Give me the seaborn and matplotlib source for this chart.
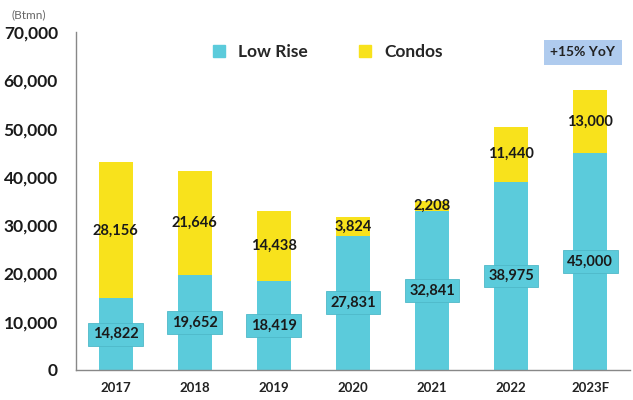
import pandas as pd
import matplotlib.pyplot as plt
import seaborn as sns

years = ["2017", "2018", "2019", "2020", "2021", "2022", "2023F"]
low_rise = [14822, 19652, 18419, 27831, 32841, 38975, 45000]
condos = [28156, 21646, 14438, 3824, 2208, 11440, 13000]

CYAN = "#5BCBDB"
YELLOW = "#F8E21C"

df = pd.DataFrame({"year": years, "low_rise": low_rise, "condos": condos})
df["total"] = df["low_rise"] + df["condos"]

sns.set_style("white")
plt.rcParams["font.family"] = ["Lato", "DejaVu Sans"]

fig = plt.figure(figsize=(6.33, 4.0), dpi=100)
ax = fig.add_axes([0.12, 0.075, 0.875, 0.845])

# stacked bars: total (condos on top) then low rise over it
sns.barplot(data=df, x="year", y="total", color=YELLOW, width=0.43,
            saturation=1, linewidth=0, ax=ax)
sns.barplot(data=df, x="year", y="low_rise", color=CYAN, width=0.43,
            saturation=1, linewidth=0, ax=ax)

for i, row in df.iterrows():
    ax.text(i, row["low_rise"] / 2, f"{row['low_rise']:,}", ha="center", va="center",
            fontsize=10.5, fontweight="bold", color="#1a1a1a",
            bbox=dict(boxstyle="square,pad=0.3", fc=CYAN, ec="#4fb8c8", lw=0.6))
    ax.text(i, row["low_rise"] + row["condos"] / 2, f"{row['condos']:,}", ha="center",
            va="center", fontsize=10.5, fontweight="bold", color="#1a1a1a")

ax.set_ylim(0, 70000)
ax.set_xlim(-0.5, 6.5)
ax.set_yticks(range(0, 70001, 10000))
ax.set_yticklabels([f"{v:,}" for v in range(0, 70001, 10000)], fontsize=12.5,
                   fontweight="bold", color="#1a1a1a")
ax.set_xticks(range(len(years)))
ax.set_xticklabels(years, fontsize=9.5, fontweight="bold", color="#222222")
ax.set_xticks([i + 0.5 for i in range(len(years) - 1)], minor=True)
ax.tick_params(axis="x", which="major", length=0, pad=9)
ax.tick_params(axis="x", which="minor", length=5, color="#888888", direction="out")
ax.tick_params(axis="y", length=5, color="#888888", direction="out", pad=8)
ax.set_xlabel("")
ax.set_ylabel("")

sns.despine(ax=ax, top=True, right=True)
for s in ["left", "bottom"]:
    ax.spines[s].set_color("#888888")
    ax.spines[s].set_linewidth(1.0)

handles = [plt.Line2D([], [], marker="s", ls="", color=CYAN, markersize=8),
           plt.Line2D([], [], marker="s", ls="", color=YELLOW, markersize=8)]
ax.legend(handles, ["Low Rise", "Condos"], ncol=2, frameon=False, loc="center",
          bbox_to_anchor=(0.445, 0.94), handletextpad=0.1,
          columnspacing=2.3, prop={"weight": "bold", "size": 12.5})

ax.text(0.915, 0.94, "+15% YoY", transform=ax.transAxes, ha="center", va="center",
        fontsize=10, fontweight="bold", color="#222222",
        bbox=dict(boxstyle="square,pad=0.45", fc="#AFCBEE", ec="none"))

fig.text(0.018, 0.962, "(Btmn)", fontsize=8.5, color="#666666", va="center")

fig.savefig("out.png", dpi=100)
